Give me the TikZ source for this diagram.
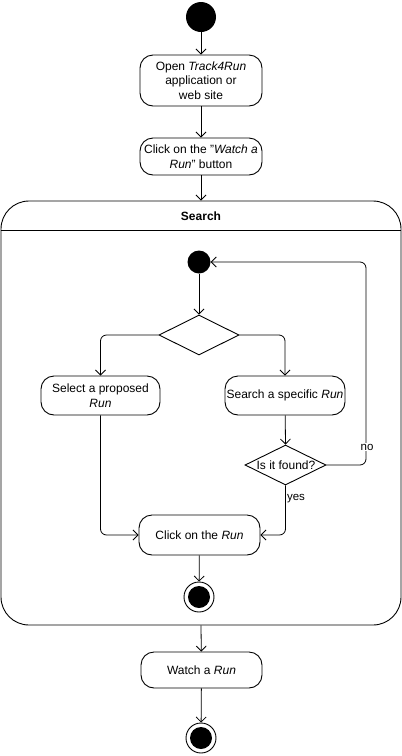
\documentclass[tikz,border=0pt]{standalone}
\usepackage{fontspec}
\setmainfont{Liberation Sans}
\usetikzlibrary{arrows.meta,shapes.geometric}
\begin{document}
\begin{tikzpicture}[x=1pt,y=-1pt,
  every node/.style={font=\fontsize{12}{14.5}\selectfont},
  act/.style={draw,line width=0.9pt,rounded corners=13pt,align=center,inner sep=0pt},
  dec/.style={draw,line width=0.9pt,diamond,aspect=2,inner sep=0pt,minimum width=80pt,minimum height=40pt},
  startdot/.style={circle,fill=black,inner sep=0pt},
  arr/.style={line width=0.8pt,-{Straight Barb[length=5pt,width=10pt]},rounded corners=6pt},
  lbl/.style={font=\fontsize{11.5}{13}\selectfont,inner sep=1pt}
]
\useasboundingbox (0,0) rectangle (402,756);
% top level
\node[startdot,minimum size=30pt] (start) at (201,17) {};
\node[act,minimum width=122pt,minimum height=51pt] (open) at (201,80.5)
  {Open \textit{Track4Run}\\application or\\web site};
\node[act,minimum width=122pt,minimum height=37pt] (watchbtn) at (201,156.5)
  {Click on the "\textit{Watch a}\\\textit{Run}" button};
% container
\node[draw,line width=0.9pt,rounded corners=28pt,minimum width=400pt,minimum height=424pt,inner sep=0pt] (search) at (201,413) {};
\draw[line width=0.9pt] ([yshift=-30pt]search.north west) -- ([yshift=-30pt]search.north east);
\node[font=\bfseries\fontsize{12}{14}\selectfont] (searchlbl) at (201,216) {Search};
% inner
\node[startdot,minimum size=23pt] (istart) at (199,262) {};
\node[dec] (d1) at (199,335) {};
\node[act,minimum width=119pt,minimum height=39pt] (sel) at (100.5,395.5)
  {Select a proposed\\\textit{Run}};
\node[act,minimum width=120pt,minimum height=39pt] (srch) at (285,395.5)
  {Search a specific \textit{Run}};
\node[dec,minimum width=81pt] (d2) at (285.5,465) {};
\node[inner sep=0pt] (d2txt) at (286,465) {Is it found?};
\node[act,minimum width=121pt,minimum height=40pt] (click) at (199.5,535)
  {Click on the \textit{Run}};
\node[circle,draw,line width=0.9pt,minimum size=30pt,inner sep=0pt] (end1) at (199,597) {};
\node[startdot,minimum size=22pt] (end1in) at (199,597) {};
% after container
\node[act,minimum width=121pt,minimum height=36pt] (watch) at (201.5,670)
  {Watch a \textit{Run}};
\node[circle,draw,line width=0.9pt,minimum size=30pt,inner sep=0pt] (end2) at (201,738) {};
\node[startdot,minimum size=22pt] (end2in) at (201,738) {};
\coordinate (noturn) at (366,465);
% connectors
\draw[arr] (start) -- (open);
\draw[arr] (open) -- (watchbtn);
\draw[arr] (watchbtn) -- (search.north);
\draw[arr] (istart) -- (d1.north);
\draw[arr] (d1.west) -| (sel.north);
\draw[arr] (d1.east) -| (srch.north);
\draw[arr] (srch) -- (d2.north);
\draw[arr] (d2.east) -- (noturn) |- (istart.east);
\draw[arr] (sel.south) |- (click.west);
\draw[arr] (d2.south) |- (click.east);
\draw[arr] (click) -- (end1);
\draw[arr] (search.south) -- (watch);
\draw[arr] (watch) -- (end2);
\node[lbl,fill=white] (nolbl) at (367,447) {no};
\node[lbl] (yeslbl) at (296,499) {yes};
\end{tikzpicture}
\end{document}
